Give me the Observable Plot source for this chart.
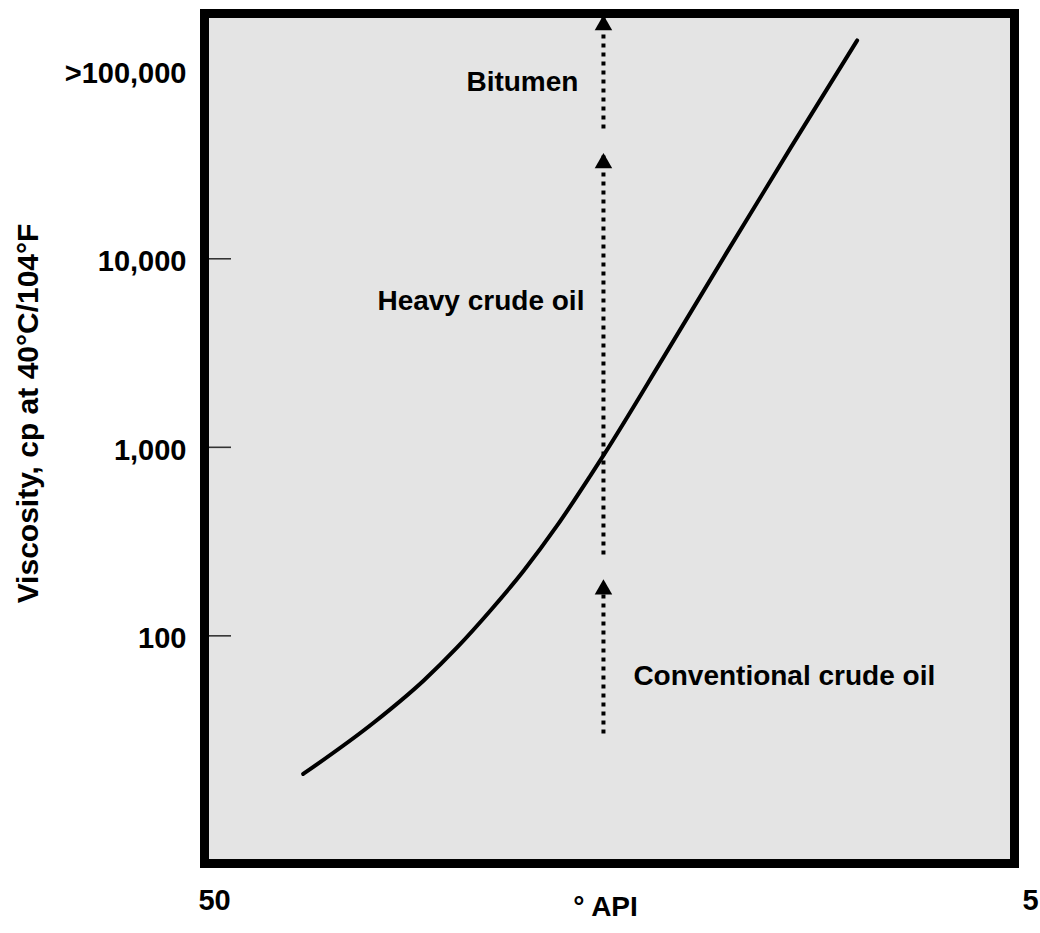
<!DOCTYPE html>
<html>
<head>
<meta charset="utf-8">
<script src="https://cdn.jsdelivr.net/npm/d3@7"></script>
<script src="https://cdn.jsdelivr.net/npm/@observablehq/plot@0.6"></script>
<style>
  html, body { margin: 0; padding: 0; background: #ffffff; }
  #chart svg { display: block; }
</style>
</head>
<body>
<div id="chart"></div>
<script>
// Viscosity vs. API gravity curve (API degrees, viscosity in cp at 40°C/104°F)
const apiGravity = [45.11, 41.21, 38.46, 36.62, 34.78, 32.94, 31.10, 29.26, 28.55, 25.24, 21.78, 18.18, 14.56];
const viscosity  = [18.5, 34.7, 58.0, 86.8, 136.3, 222, 385, 710, 906, 3000, 10680, 39460, 143900];

// Oil classes along the boundary line, each with its dotted arrow
const boundaryApi = 28.55;
const classNames = ["Conventional crude oil", "Heavy crude oil", "Bitumen"];
const arrowStart = [30.3, 270, 49150];
const arrowEnd   = [194, 35350, 190800];

// Class label anchors (API, viscosity)
const labelApi = [26.9, 29.6, 29.93];
const labelVisc = [60.9, 5940, 86300];

// Axis ticks
const xTickValues = [50, 5];
const yTickValues = [100, 1000, 10000, 100000];
const yTickLabels = ["100", "1,000", "10,000", ">100,000"];
const yTickMarks = [100, 1000, 10000];

const curve = apiGravity.map((a, i) => ({api: a, visc: viscosity[i]}));
const arrows = classNames.map((name, i) => ({name, x: boundaryApi, y1: arrowStart[i], y2: arrowEnd[i]}));
const labels = classNames.map((name, i) => ({name, api: labelApi[i], visc: labelVisc[i]}));

// arrowhead radius; the triangle symbol is centred on its centroid,
// so shift it down a little to put the tip at the end value
const headR = 6.5;

const chart = Plot.plot({
  width: 1040,
  height: 933,
  marginLeft: 204,
  marginRight: 26,
  marginTop: 13,
  marginBottom: 70,
  x: {domain: [50, 5], range: [214, 1030], axis: null},
  y: {type: "log", domain: [6.2, 2e5], axis: null},
  style: {
    fontFamily: "'Liberation Sans', Arial, sans-serif",
    fontWeight: "bold",
    color: "#000",
    background: "#fff"
  },
  marks: [
    Plot.frame({fill: "#e4e4e4"}),
    // inward tick marks on the left edge
    Plot.ruleY(yTickMarks, {stroke: "#333", strokeWidth: 1.6, insetRight: 783}),
    // dotted class arrows
    Plot.link(arrows, {
      x1: "x", x2: "x", y1: "y1", y2: "y2",
      stroke: "#000", strokeWidth: 4, strokeDasharray: "4,5", strokeLinecap: "butt"
    }),
    Plot.dot(arrows, {
      x: "x", y: "y2", symbol: "triangle", r: headR, dy: headR * 1.2,
      fill: "#000", stroke: "none"
    }),
    // viscosity curve
    Plot.line(curve, {x: "api", y: "visc", curve: "monotone-x", stroke: "#000", strokeWidth: 4}),
    // class labels
    Plot.text(labels.filter(d => d.name !== "Conventional crude oil"), {
      x: "api", y: "visc", text: "name", textAnchor: "end",
      fontSize: 28, fill: "#000"
    }),
    Plot.text(labels.filter(d => d.name === "Conventional crude oil"), {
      x: "api", y: "visc", text: "name", textAnchor: "start",
      fontSize: 28, fill: "#000"
    }),
    // y tick labels
    Plot.text(yTickValues, {
      y: d => d, text: yTickLabels, frameAnchor: "left", textAnchor: "end",
      dx: -18, dy: 3, fontSize: 29, fill: "#000"
    }),
    // x tick labels
    Plot.text(xTickValues, {
      x: d => d, text: d => String(d), frameAnchor: "bottom",
      dy: 46, fontSize: 29, fill: "#000"
    }),
    // axis titles
    Plot.text(["° API"], {
      frameAnchor: "bottom", dx: -4, dy: 52, fontSize: 28, fill: "#000"
    }),
    Plot.text(["Viscosity, cp at 40°C/104°F"], {
      frameAnchor: "left", textAnchor: "middle", rotate: -90,
      dx: -176, dy: -25, fontSize: 30, fill: "#000"
    }),
    Plot.frame({stroke: "#000", strokeWidth: 9})
  ]
});

document.getElementById("chart").append(chart);
</script>
</body>
</html>
